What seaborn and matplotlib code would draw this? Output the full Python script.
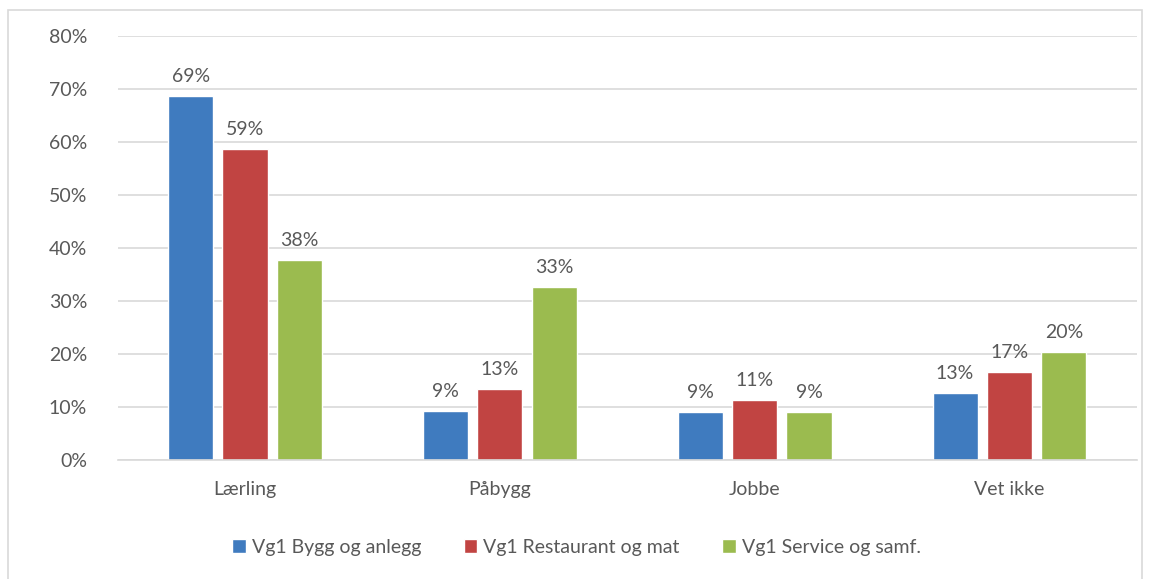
import pandas as pd
import matplotlib.pyplot as plt
import seaborn as sns
from matplotlib.patches import Rectangle

# Data
categories = ["Lærling", "Påbygg", "Jobbe", "Vet ikke"]
series = ["Vg1 Bygg og anlegg", "Vg1 Restaurant og mat", "Vg1 Service og samf."]
bygg = [68.7, 9.2, 9.0, 12.7]
restaurant = [58.6, 13.4, 11.3, 16.6]
service = [37.8, 32.6, 9.0, 20.3]
colors = ["#3F7BBF", "#C14442", "#9BBB4F"]

df = pd.DataFrame({
    "kategori": categories * 3,
    "gruppe": [series[0]] * 4 + [series[1]] * 4 + [series[2]] * 4,
    "verdi": bygg + restaurant + service,
})

sns.set_style("white")
plt.rcParams["font.family"] = ["Lato", "DejaVu Sans"]
grey = "#595959"

fig = plt.figure(figsize=(11.53, 5.79), dpi=100)
ax = fig.add_axes([0.102, 0.2055, 0.884, 0.7323])

sns.barplot(data=df, x="kategori", y="verdi", hue="gruppe", palette=colors,
            saturation=1, width=0.64, gap=0.17, ax=ax, legend=True)

# value labels
for cont in ax.containers:
    ax.bar_label(cont, labels=["{:.0f}%".format(v.get_height()) for v in cont],
                 padding=8, fontsize=14, color=grey)

ax.set_ylim(0, 80)
ax.set_yticks(range(0, 81, 10))
ax.set_yticklabels(["{}%".format(t) for t in range(0, 81, 10)])
ax.set_xlim(-0.5, 3.5)
ax.grid(axis="y", color="#D9D9D9", linewidth=1.2)
ax.set_axisbelow(True)
for s in ["top", "right", "left"]:
    ax.spines[s].set_visible(False)
ax.spines["bottom"].set_color("#D9D9D9")
ax.spines["bottom"].set_linewidth(1.2)
ax.tick_params(axis="both", length=0, labelsize=14, labelcolor=grey)
ax.tick_params(axis="x", pad=15)
ax.tick_params(axis="y", pad=22)
ax.set_xlabel("")
ax.set_ylabel("")

ax.legend(loc="center", bbox_to_anchor=(0.5, 0.055), bbox_transform=fig.transFigure,
          ncol=3, frameon=False, fontsize=14, labelcolor=grey,
          handlelength=0.7, handleheight=0.7, handletextpad=0.3, columnspacing=2.2)

# outer chart border
fig.patches.append(Rectangle((8 / 1153, -0.01), 1134 / 1153, 1 - 10 / 579 + 0.01,
                             transform=fig.transFigure, fill=False,
                             edgecolor="#D9D9D9", linewidth=1.2))

fig.savefig("out.png", dpi=100)
